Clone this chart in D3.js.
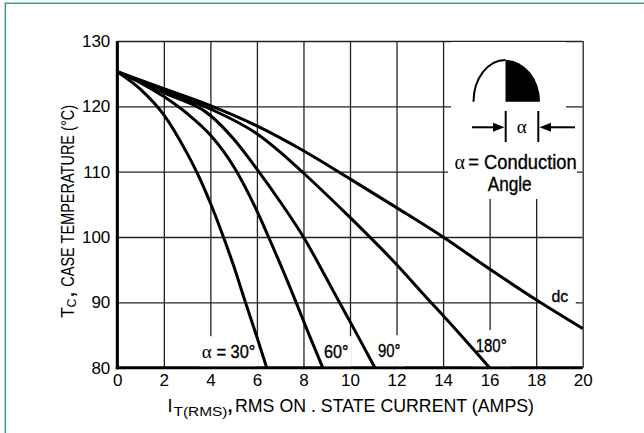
<!DOCTYPE html>
<html>
<head>
<meta charset="utf-8">
<script src="https://cdn.jsdelivr.net/npm/d3@7"></script>
<style>
  body { margin: 0; background: #fff; }
  svg text { font-family: "Liberation Sans", Arial, sans-serif; fill: #000; }
  .heavy { stroke: #000; stroke-width: 0.35px; }
</style>
</head>
<body>
<div id="chart-area"></div>
<script>
// tick values for both axes
var currentTicks = [0, 2, 4, 6, 8, 10, 12, 14, 16, 18, 20];
var tempTicks = [80, 90, 100, 110, 120, 130];

// curves: [rms current (A), case temp (C)]
var dcCurve = [[0, 125.3], [2, 122.7], [4, 120.1], [6, 117], [8, 113.2], [10, 108.9],
  [12, 104.5], [14, 100], [16, 95.1], [18, 90.4], [20, 86]];
var curve180 = [[0, 125.3], [2, 122.4], [4, 119.6], [6, 115.8], [7, 113], [8, 109.8],
  [10, 103], [12, 95.8], [13.4, 90.3], [14, 88], [16, 80]];
var curve90 = [[0, 125.3], [2, 122.1], [4, 118.6], [5, 115], [6, 110.4], [7, 105.4],
  [8, 100], [9, 93.6], [9.5, 90.3], [10.3, 85.1], [11.07, 80]];
var curve60 = [[0, 125.3], [1, 123.6], [2, 121.5], [3, 118.9], [4, 115.6], [5, 110.8],
  [6, 104], [6.5, 100], [7, 95.9], [7.65, 90.3], [8.2, 85.4], [8.83, 80]];
var curve30 = [[0, 125.3], [1, 122.6], [2, 118.7], [3, 112.8], [3.5, 109.3], [4, 105.2],
  [4.56, 100], [5, 95.6], [5.48, 90.3], [6, 84.7], [6.42, 80]];

var curveLabels = ['30°', '60°', '90°', '180°', 'dc'];

var margin = { left: 117.3, right: 61.3, top: 41, bottom: 65.3 };
var width = 644 - margin.left - margin.right;
var height = 433 - margin.top - margin.bottom;

var svg = d3.select('#chart-area')
  .append('svg')
    .attr('width', 644)
    .attr('height', 433);

// green page border
svg.append('rect')
  .attr('x', 5.3).attr('y', 3.3)
  .attr('width', 700).attr('height', 500)
  .attr('fill', 'none')
  .attr('stroke', '#3a9b6e')
  .attr('stroke-width', 1.4);

var graph = svg.append('g')
  .attr('transform', `translate(${margin.left}, ${margin.top})`);

var x = d3.scaleLinear().domain([0, 20]).range([0, width]);
var y = d3.scaleLinear().domain([80, 130]).range([height, 0]);

// grid + tick labels
var xAxisCall = d3.axisBottom(x)
  .tickValues(currentTicks)
  .tickSize(-height)
  .tickPadding(6);

graph.append('g')
  .attr('class', 'x axis')
  .attr('transform', `translate(0, ${height})`)
  .call(xAxisCall)
  .call(g => g.select('.domain').remove())
  .call(g => g.selectAll('line').attr('stroke', '#222').attr('stroke-width', 1.3))
  .call(g => g.selectAll('text')
    .attr('font-size', '17px')
    .attr('font-family', '"Liberation Sans", Arial, sans-serif'));

var yAxisCall = d3.axisLeft(y)
  .tickValues(tempTicks)
  .tickSize(-width)
  .tickPadding(7);

graph.append('g')
  .attr('class', 'y axis')
  .call(yAxisCall)
  .call(g => g.select('.domain').remove())
  .call(g => g.selectAll('line').attr('stroke', '#222').attr('stroke-width', 1.3))
  .call(g => g.selectAll('text')
    .attr('font-size', '17px')
    .attr('font-family', '"Liberation Sans", Arial, sans-serif'));

// white area behind the inset drawing
svg.append('rect').attr('x', 451).attr('y', 42).attr('width', 115).attr('height', 112).attr('fill', '#fff');
svg.append('rect').attr('x', 448).attr('y', 150).attr('width', 129).attr('height', 49).attr('fill', '#fff');

// thick left + bottom axis lines
graph.append('line')
  .attr('x1', 0).attr('x2', 0).attr('y1', 0).attr('y2', height + 1.5)
  .attr('stroke', '#000').attr('stroke-width', 3);
graph.append('line')
  .attr('x1', -1.5).attr('x2', width).attr('y1', height).attr('y2', height)
  .attr('stroke', '#000').attr('stroke-width', 3);

// curve labels with white boxes that break the grid
var labelSpots = [
  { x: 4.26, y: 81.45, len: 39, size: 18 },
  { x: 8.88, y: 81.45, len: 24.5, size: 18 },
  { x: 11.2, y: 81.6, len: 22.5, size: 18 },
  { x: 15.4, y: 82.4, len: 31, size: 18 },
  { x: 18.66, y: 90.1, len: 16.8, size: 17 }
];

var labels = graph.selectAll('.curve-label')
  .data(curveLabels)
  .enter()
  .append('text')
    .attr('class', 'curve-label heavy')
    .attr('x', (d, i) => x(labelSpots[i].x))
    .attr('y', (d, i) => y(labelSpots[i].y))
    .attr('font-size', (d, i) => labelSpots[i].size + 'px')
    .attr('textLength', (d, i) => labelSpots[i].len)
    .attr('lengthAdjust', 'spacingAndGlyphs')
    .text((d, i) => i === 0 ? '= ' + d : d);

// masks go under the text
labels.each(function (d, i) {
  var b = this.getBBox();
  var r = i === 4
    ? { x: b.x - 11, y: b.y - 2, w: b.width + 18, h: b.height + 4 }
    : { x: b.x - 3, y: b.y - 6, w: b.width + 6, h: height - b.y + 6 };
  if (i === 0) { r.x -= 14; r.w += 14; }
  graph.insert('rect', '.curve-label')
    .attr('x', r.x).attr('y', r.y)
    .attr('width', r.w).attr('height', Math.min(r.h, height - 1.5 - r.y))
    .attr('fill', '#fff');
});

graph.append('text')
  .attr('x', x(3.63))
  .attr('y', y(81.45))
  .attr('font-size', '19px')
  .style('font-family', '"Liberation Serif", serif')
  .text('α');

// the curves
var line = d3.line()
  .x(d => x(d[0]))
  .y(d => y(d[1]))
  .curve(d3.curveMonotoneX);

graph.selectAll('.curve')
  .data([curve30, curve60, curve90, curve180, dcCurve])
  .enter()
  .append('path')
    .attr('class', 'curve')
    .attr('d', line)
    .attr('fill', 'none')
    .attr('stroke', '#000')
    .attr('stroke-width', 3)
    .attr('stroke-linecap', 'butt');

// inset: half wave, right half filled (elliptic arcs)
svg.append('path')
  .attr('d', 'M473.5,101.7 A32,41.7 0 0 1 505.5,60')
  .attr('fill', 'none').attr('stroke', '#000').attr('stroke-width', 2);
svg.append('path')
  .attr('d', 'M505.5,60 A34.5,41.7 0 0 1 540,101.7 L505.5,101.7 Z')
  .attr('fill', '#000');

var inset = svg.append('g').attr('stroke', '#000').attr('stroke-width', 2);
inset.append('line').attr('x1', 505.7).attr('x2', 505.7).attr('y1', 111).attr('y2', 142);
inset.append('line').attr('x1', 538.3).attr('x2', 538.3).attr('y1', 111).attr('y2', 142);
inset.append('line').attr('x1', 472).attr('x2', 495).attr('y1', 127.3).attr('y2', 127.3);
inset.append('line').attr('x1', 575).attr('x2', 549).attr('y1', 127.3).attr('y2', 127.3);
svg.append('path').attr('d', 'M504.5,127.3 L493,122.8 L493,131.8 Z').attr('fill', '#000');
svg.append('path').attr('d', 'M539.5,127.3 L551,122.8 L551,131.8 Z').attr('fill', '#000');

svg.append('text')
  .attr('x', 521.7).attr('y', 133)
  .attr('text-anchor', 'middle')
  .attr('font-size', '19px')
  .style('font-family', '"Liberation Serif", serif')
  .text('α');
svg.append('text')
  .attr('x', 454.5).attr('y', 169)
  .attr('font-size', '20px')
  .style('font-family', '"Liberation Serif", serif')
  .text('α');
svg.append('text')
  .attr('class', 'heavy')
  .attr('x', 468.3).attr('y', 169)
  .attr('font-size', '19.5px')
  .attr('textLength', 108.4)
  .attr('lengthAdjust', 'spacingAndGlyphs')
  .text('= Conduction');
svg.append('text')
  .attr('class', 'heavy')
  .attr('x', 487.7).attr('y', 191)
  .attr('font-size', '19.5px')
  .attr('textLength', 44)
  .attr('lengthAdjust', 'spacingAndGlyphs')
  .text('Angle');

// x axis title
svg.append('text').attr('x', 167.5).attr('y', 411.7).attr('font-size', '18px').text('I');
svg.append('text').attr('x', 173.5).attr('y', 415.7).attr('font-size', '12.5px')
  .attr('textLength', 54).attr('lengthAdjust', 'spacingAndGlyphs').text('T(RMS)');
svg.append('text').attr('x', 227.5).attr('y', 411.7).attr('font-size', '18px')
  .attr('font-weight', 'bold').text(',');
svg.append('text').attr('x', 235).attr('y', 411.7).attr('font-size', '18px')
  .attr('textLength', 299).attr('lengthAdjust', 'spacingAndGlyphs')
  .text('RMS ON . STATE CURRENT (AMPS)');

// y axis title, rotated
var yTitle = svg.append('g').attr('transform', 'translate(73.5, 318) rotate(-90)');
yTitle.append('text').attr('x', 0).attr('y', 0).attr('font-size', '18px').text('T');
yTitle.append('text').attr('x', 10.5).attr('y', 2.5).attr('font-size', '12.5px').text('C');
yTitle.append('text').attr('x', 21).attr('y', 0).attr('font-size', '18px')
  .attr('font-weight', 'bold').text(',');
yTitle.append('text').attr('x', 31.3).attr('y', 0).attr('font-size', '18px')
  .attr('textLength', 181.7).attr('lengthAdjust', 'spacingAndGlyphs')
  .text('CASE TEMPERATURE (°C)');
</script>
</body>
</html>
